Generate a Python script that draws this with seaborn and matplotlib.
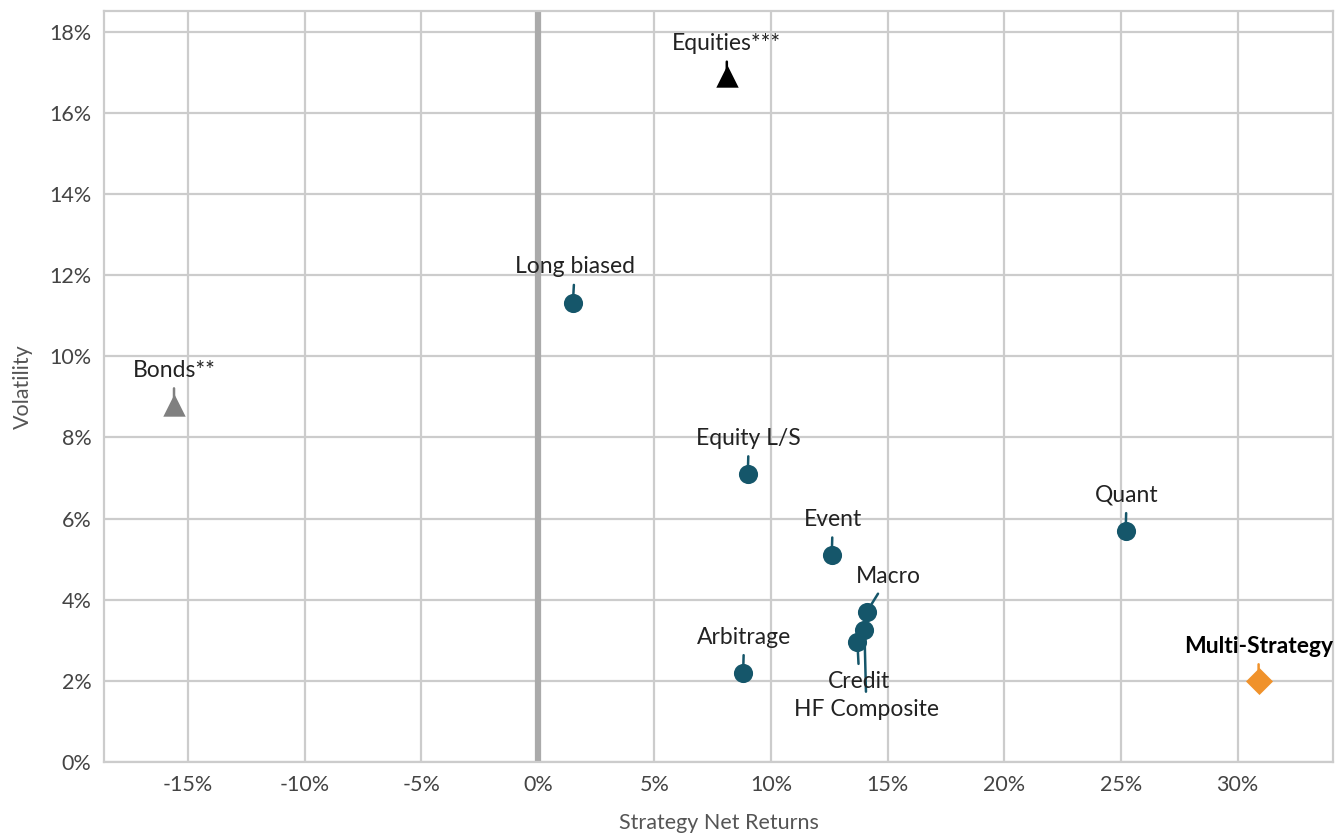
import pandas as pd
import matplotlib.pyplot as plt
import seaborn as sns
from matplotlib.ticker import FuncFormatter, MultipleLocator

# data (percent)
names = ["Equities***", "Bonds**", "Long biased", "Equity L/S", "Event", "Quant",
         "Macro", "HF Composite", "Credit", "Arbitrage", "Multi-Strategy"]
returns = [8.1, -15.6, 1.5, 9.0, 12.6, 25.2, 14.1, 14.0, 13.7, 8.8, 30.9]
volatility = [16.9, 8.8, 11.3, 7.1, 5.1, 5.7, 3.7, 3.25, 2.95, 2.2, 2.0]
group = ["Equities", "Bonds", "Hedge", "Hedge", "Hedge", "Hedge",
         "Hedge", "Hedge", "Hedge", "Hedge", "Multi"]

# label offsets in pixels (dx, dy) relative to marker
label_offsets = {
    "Equities***": (0, 22), "Bonds**": (0, 24), "Long biased": (2, 26),
    "Equity L/S": (1, 25), "Event": (1, 25), "Quant": (1, 25),
    "Macro": (22, 25), "Arbitrage": (1, 25), "Multi-Strategy": (0, 24),
    "Credit": (2, -29), "HF Composite": (2, -69),
}

df = pd.DataFrame({"name": names, "ret": returns, "vol": volatility, "group": group})

teal = "#15566a"
palette = {"Equities": "#000000", "Bonds": "#808080", "Hedge": teal, "Multi": "#f0922b"}
markers = {"Equities": "^", "Bonds": "^", "Hedge": "o", "Multi": "D"}
sizes = {"Equities": 260, "Bonds": 260, "Hedge": 190, "Multi": 190}

sns.set_style("white")
plt.rcParams['font.family'] = ['Lato', 'DejaVu Sans']

fig = plt.figure(figsize=(13.39, 8.36), dpi=100)
ax = fig.add_axes([0.0777, 0.0885, 0.918, 0.898])

for g, sub in df.groupby("group"):
    sns.scatterplot(data=sub, x="ret", y="vol", color=palette[g], marker=markers[g],
                    s=sizes[g], linewidth=0, ax=ax, zorder=4)

for _, row in df.iterrows():
    dx, dy = label_offsets[row["name"]]
    bold = row["name"] == "Multi-Strategy"
    lc = palette[row["group"]]
    ax.annotate(row["name"], xy=(row["ret"], row["vol"]), xytext=(dx, dy),
                textcoords="offset pixels", ha="center",
                va="bottom" if dy > 0 else "top",
                fontsize=16.5, color="#000000" if bold else "#222222",
                fontweight="bold" if bold else "normal",
                arrowprops=dict(arrowstyle="-", color=lc, lw=1.8,
                                shrinkA=3, shrinkB=0),
                zorder=3)

ax.set_xlim(-18.6, 34.1)
ax.set_ylim(0, 18.5)
ax.xaxis.set_major_locator(MultipleLocator(5))
ax.yaxis.set_major_locator(MultipleLocator(2))
ax.xaxis.set_major_formatter(FuncFormatter(lambda v, p: f"{v:.0f}%"))
ax.yaxis.set_major_formatter(FuncFormatter(lambda v, p: f"{v:.0f}%"))
ax.grid(True, color="#cccccc", linewidth=1.6)
ax.set_axisbelow(True)
ax.axvline(0, color="#aaaaaa", linewidth=4.5, zorder=1)
for s in ax.spines.values():
    s.set_color("#cccccc")
    s.set_linewidth(1.6)
ax.tick_params(axis="both", length=0, labelsize=15.5, labelcolor="#444444", pad=9)
ax.set_xlabel("Strategy Net Returns", fontsize=15.5, color="#555555", labelpad=13)
ax.set_ylabel("Volatility", fontsize=15.5, color="#555555", labelpad=12)

plt.savefig("out.png", dpi=100)
